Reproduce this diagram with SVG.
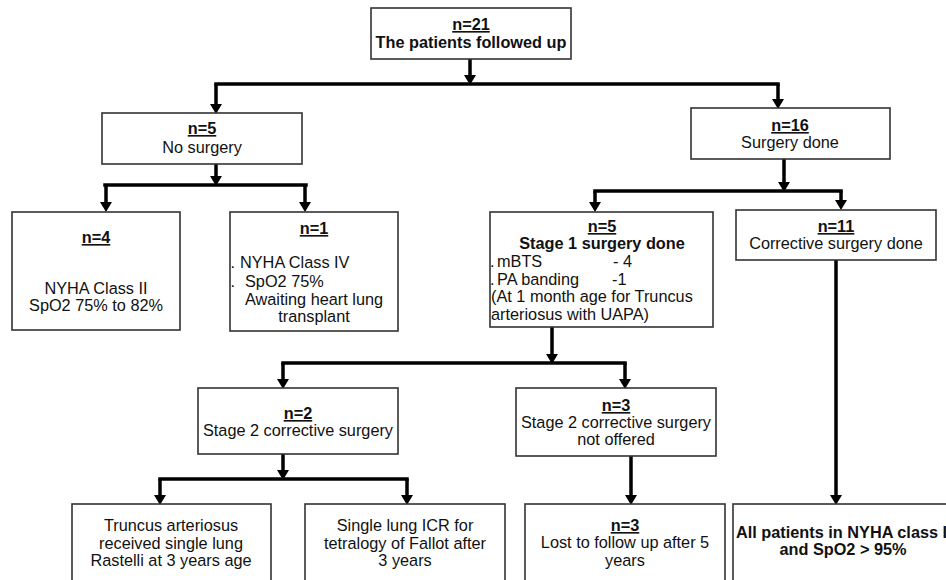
<svg xmlns="http://www.w3.org/2000/svg" width="946" height="580" viewBox="0 0 946 580">
<style>
  .box { fill: #ffffff; stroke: #333333; stroke-width: 1.6; }
  .t { font-family: "Liberation Sans", Arial, sans-serif; font-size: 16.3px; fill: #111111; }
  .c { text-anchor: middle; }
  .b { font-weight: bold; }
  .u { font-weight: bold; text-decoration: underline; }
  .conn path { fill: none; stroke: #000000; stroke-width: 3.5; stroke-linecap: square; }
  .conn path.a { stroke-linecap: butt; marker-end: url(#ah); }
</style>
<defs>
  <marker id="ah" markerUnits="userSpaceOnUse" markerWidth="10" markerHeight="12" refX="0" refY="6" orient="auto" viewBox="0 0 10 12">
    <path d="M0,0 L10,6 L0,12 z" fill="#000000"/>
  </marker>
</defs>
<rect width="946" height="580" fill="#ffffff"/>

<g class="conn" id="connectors">
  <path class="a" d="M470 59 V75"/>
  <path d="M216 84 H778"/>
  <path class="a" d="M216 84 V104"/>
  <path class="a" d="M778 84 V99"/>

  <path class="a" d="M216 164 V176"/>
  <path d="M105 185 H306"/>
  <path class="a" d="M106 185 V202"/>
  <path class="a" d="M305 185 V202"/>

  <path class="a" d="M784 159 V182"/>
  <path d="M595 191 H841"/>
  <path class="a" d="M595 191 V202"/>
  <path class="a" d="M841 191 V200"/>

  <path class="a" d="M552 327 V354"/>
  <path d="M283 363 H625"/>
  <path class="a" d="M283 363 V379"/>
  <path class="a" d="M625 363 V379"/>

  <path class="a" d="M283 454 V470"/>
  <path d="M160 479 H407"/>
  <path class="a" d="M160 479 V495"/>
  <path class="a" d="M407 479 V495"/>

  <path class="a" d="M631 456 V495"/>
  <path class="a" d="M836 260 V495"/>
</g>

<g id="n21">
  <rect class="box" x="371" y="8" width="200" height="51"/>
  <text class="t u c" x="471" y="30">n=21</text>
  <text class="t b c" x="471" y="48">The patients followed up</text>
</g>

<g id="no-surgery">
  <rect class="box" x="102" y="113" width="200" height="51"/>
  <text class="t u c" x="202" y="134">n=5</text>
  <text class="t c" x="202" y="153">No surgery</text>
</g>

<g id="surgery-done">
  <rect class="box" x="691" y="108" width="199" height="51"/>
  <text class="t u c" x="790" y="131">n=16</text>
  <text class="t c" x="790" y="148">Surgery done</text>
</g>

<g id="n4">
  <rect class="box" x="12" y="212" width="168" height="118"/>
  <text class="t u c" x="96" y="243">n=4</text>
  <text class="t c" x="96" y="294">NYHA Class II</text>
  <text class="t c" x="96" y="311">SpO2 75% to 82%</text>
</g>

<g id="n1">
  <rect class="box" x="230" y="212" width="168" height="119"/>
  <text class="t u c" x="314" y="234">n=1</text>
  <text class="t" x="230.5" y="268">.</text>
  <text class="t" x="240" y="268">NYHA Class IV</text>
  <text class="t" x="230.5" y="287">.</text>
  <text class="t" x="245" y="287">SpO2 75%</text>
  <text class="t c" x="314" y="305">Awaiting heart lung</text>
  <text class="t c" x="314" y="322">transplant</text>
</g>

<g id="stage1">
  <rect class="box" x="490" y="212" width="223" height="115"/>
  <text class="t u c" x="602" y="232">n=5</text>
  <text class="t b c" x="602" y="249">Stage 1 surgery done</text>
  <text class="t" x="490" y="267">.</text>
  <text class="t" x="497" y="267">mBTS</text>
  <text class="t" x="613" y="267">- 4</text>
  <text class="t" x="490" y="285">.</text>
  <text class="t" x="497" y="285">PA banding</text>
  <text class="t" x="612" y="285">-1</text>
  <text class="t" x="491" y="302">(At 1 month age for Truncus</text>
  <text class="t" x="491" y="320">arteriosus with UAPA)</text>
</g>

<g id="n11">
  <rect class="box" x="736" y="210" width="200" height="50"/>
  <text class="t u c" x="836" y="232">n=11</text>
  <text class="t c" x="836" y="249">Corrective surgery done</text>
</g>

<g id="stage2">
  <rect class="box" x="198" y="388" width="200" height="66"/>
  <text class="t u c" x="298" y="419">n=2</text>
  <text class="t c" x="298" y="436">Stage 2 corrective surgery</text>
</g>

<g id="not-offered">
  <rect class="box" x="516" y="388" width="200" height="68"/>
  <text class="t u c" x="616" y="411">n=3</text>
  <text class="t c" x="616" y="428">Stage 2 corrective surgery</text>
  <text class="t c" x="616" y="445">not offered</text>
</g>

<g id="truncus">
  <rect class="box" x="72" y="504" width="199" height="100"/>
  <text class="t c" x="171" y="531">Truncus arteriosus</text>
  <text class="t c" x="171" y="549">received single lung</text>
  <text class="t c" x="171" y="566">Rastelli at 3 years age</text>
</g>

<g id="single-lung">
  <rect class="box" x="305" y="504" width="200" height="100"/>
  <text class="t c" x="405" y="531">Single lung ICR for</text>
  <text class="t c" x="405" y="549">tetralogy of Fallot after</text>
  <text class="t c" x="405" y="566">3 years</text>
</g>

<g id="lost">
  <rect class="box" x="525" y="504" width="200" height="100"/>
  <text class="t u c" x="625" y="531">n=3</text>
  <text class="t c" x="625" y="548">Lost to follow up after 5</text>
  <text class="t c" x="625" y="566">years</text>
</g>

<g id="all-patients">
  <rect class="box" x="733" y="504" width="230" height="100"/>
  <text class="t b" x="736" y="538">All patients in NYHA class I</text>
  <text class="t b c" x="843" y="555">and SpO2 &gt; 95%</text>
</g>
</svg>
